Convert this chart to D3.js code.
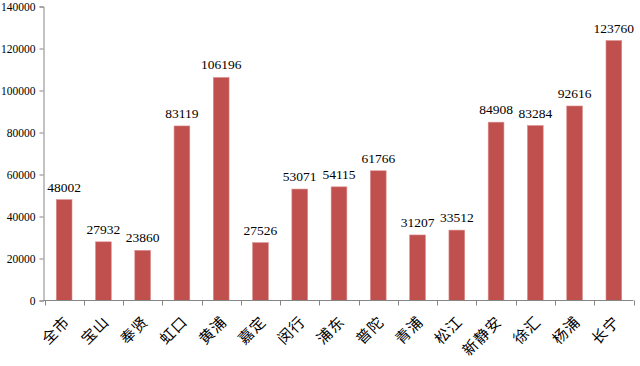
<!DOCTYPE html>
<html>
<head>
<meta charset="utf-8">
<script src="https://cdn.jsdelivr.net/npm/d3@7"></script>
<style>
  body { margin: 0; background: #fff; }
  svg { display: block; }
</style>
</head>
<body>
<svg id="chart"></svg>
<script>
// 区县名称
var districts = ["全市", "宝山", "奉贤", "虹口", "黄浦", "嘉定", "闵行", "浦东", "普陀", "青浦", "松江", "新静安", "徐汇", "杨浦", "长宁"];
// 数值
var values = [48002, 27932, 23860, 83119, 106196, 27526, 53071, 54115, 61766, 31207, 33512, 84908, 83284, 92616, 123760];
// y轴刻度
var yTicks = [0, 20000, 40000, 60000, 80000, 100000, 120000, 140000];

var w = 640, h = 366;
var svg = d3.select("#chart").attr("width", w).attr("height", h);

var x = d3.scaleBand()
    .domain(districts)
    .range([44.5, 633.5])
    .paddingInner(0.6)
    .paddingOuter(0.3);

var y = d3.scaleLinear()
    .domain([0, 140000])
    .range([300.5, 6.5]);

var axisColor = "#868686";
var serif = "'Times New Roman', 'Liberation Serif', serif";

// y轴
var yAxis = svg.append("g")
    .attr("transform", "translate(43.5,0)")
    .call(d3.axisLeft(y).tickValues(yTicks).tickSize(4).tickPadding(4).tickFormat(d3.format("d")));
yAxis.selectAll("path, line").attr("stroke", axisColor);
yAxis.selectAll("text")
    .attr("font-family", serif)
    .attr("font-size", "11.5px")
    .attr("fill", "#000");

// 柱子
svg.selectAll("rect.bar")
    .data(values)
    .enter()
    .append("rect")
    .attr("class", "bar")
    .attr("x", function(d, i) { return x(districts[i]); })
    .attr("y", function(d) { return y(d); })
    .attr("width", x.bandwidth())
    .attr("height", function(d) { return y(0) - y(d); })
    .attr("fill", "#C0504D")
    .attr("stroke", "#d98a88")
    .attr("stroke-width", 0.6);

// 数据标签
svg.selectAll("text.val")
    .data(values)
    .enter()
    .append("text")
    .attr("class", "val")
    .text(function(d) { return d; })
    .attr("x", function(d, i) { return x(districts[i]) + x.bandwidth() / 2; })
    .attr("y", function(d) { return y(d) - 8; })
    .attr("text-anchor", "middle")
    .attr("font-family", serif)
    .attr("font-size", "13.5px")
    .attr("fill", "#000");

// x轴 (刻度在类别之间)
var xg = svg.append("g");
xg.append("line")
    .attr("x1", 43.5).attr("x2", 633.5)
    .attr("y1", y(0)).attr("y2", y(0))
    .attr("stroke", axisColor);
var step = x.step();
var x0 = x.range()[0];
xg.selectAll("line.tick")
    .data(d3.range(districts.length + 1))
    .enter()
    .append("line")
    .attr("class", "tick")
    .attr("x1", function(i) { return Math.round(x0 + i * step) + 0.5; })
    .attr("x2", function(i) { return Math.round(x0 + i * step) + 0.5; })
    .attr("y1", y(0))
    .attr("y2", y(0) + 5)
    .attr("stroke", axisColor);

// x轴标签 (旋转45度)
xg.selectAll("text")
    .data(districts)
    .enter()
    .append("text")
    .text(function(d) { return d; })
    .attr("transform", function(d) {
        var cx = x(d) + x.bandwidth() / 2 + 3;
        return "translate(" + cx + "," + 319 + ") rotate(-45)";
    })
    .attr("text-anchor", "end")
    .attr("dy", "0.35em")
    .attr("font-family", "'Noto Sans CJK SC', sans-serif")
    .attr("font-size", "15px")
    .attr("letter-spacing", "1px")
    .attr("fill", "#000");
</script>
</body>
</html>
